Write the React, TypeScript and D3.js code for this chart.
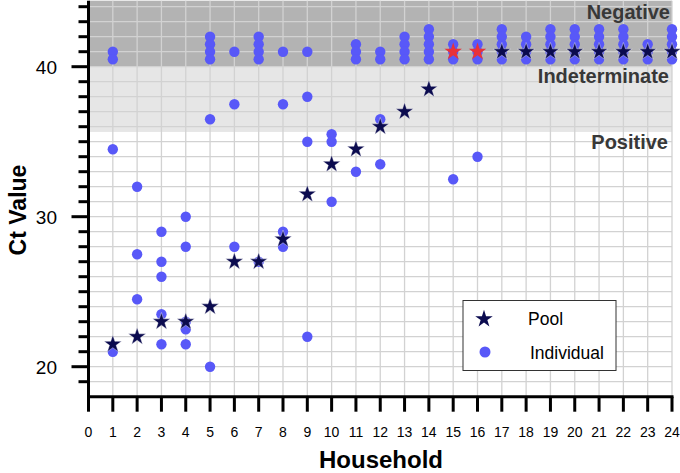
import React from "react";
import * as d3 from "d3";

const households = Array.from({ length: 25 }, (_, i) => i); // tick labels 0..24

// Pool results (household, Ct)
const poolHouse = [1, 2, 3, 4, 5, 6, 7, 8, 9, 10, 11, 12, 13, 14, 15, 16, 17, 18, 19, 20, 21, 22, 23, 24];
const poolCt = [21.5, 22, 23, 23, 24, 27, 27, 28.5, 31.5, 33.5, 34.5, 36, 37, 38.5, 41, 41, 41, 41, 41, 41, 41, 41, 41, 41];
const poolFlag = [0, 0, 0, 0, 0, 0, 0, 0, 0, 0, 0, 0, 0, 0, 1, 1, 0, 0, 0, 0, 0, 0, 0, 0];

// Individual results per household
const indiv: number[][] = [
  [41, 40.5, 34.5, 21],
  [32, 27.5, 24.5],
  [29, 27, 26, 23.5, 21.5],
  [30, 28, 23, 22.5, 21.5],
  [42, 41.5, 41, 40.5, 36.5, 20],
  [41, 37.5, 28],
  [42, 41.5, 41, 40.5, 27],
  [41, 37.5, 29, 28],
  [41, 38, 35, 22],
  [35.5, 35, 31],
  [41.5, 41, 40.5, 33],
  [41, 40.5, 36.5, 33.5],
  [42, 41.5, 41, 40.5],
  [42.5, 42, 41.5, 41, 40.5],
  [41.5, 41, 40.5, 32.5],
  [41.5, 41, 40.5, 34],
  [42.5, 42, 41.5, 41, 40.5],
  [42, 41.5, 41, 40.5],
  [42.5, 42, 41.5, 41, 40.5],
  [42.5, 42, 41.5, 41, 40.5],
  [42.5, 42, 41.5, 41, 40.5],
  [42.5, 42, 41.5, 41, 40.5],
  [41.5, 41, 40.5],
  [42.5, 42, 41.5, 41, 40.5],
];

const yMajor = [20, 30, 40];
const bandLabels = ["Negative", "Indeterminate", "Positive"];
const negThreshold = 40;
const posThreshold = 35.65;

export default function App() {
  const W = 680, H = 473;
  const x = d3.scaleLinear().domain([0, 24]).range([88.5, 672]);
  const y = d3.scaleLinear().domain([18, 44.4]).range([396.7, 0.7]);
  const yMinor = d3.range(19, 45, 1);
  const star = d3.symbol().type(d3.symbolStar).size(95)();
  const dotColor = "#5858f8";
  const starColor = "#0b0b4f";
  const redStar = "#e8323a";
  const font = "'Liberation Sans', Arial, sans-serif";
  const x0 = x(0), x1 = x(24), yTop = y(44.4), yBot = y(18);

  const indivPts: { h: number; v: number }[] = [];
  indiv.forEach((arr, i) => arr.forEach((v) => indivPts.push({ h: i + 1, v })));

  return (
    <svg width={W} height={H} style={{ position: "absolute", left: 0, top: 0, background: "#fff" }}>
      {/* bands */}
      <rect x={x0} y={yTop} width={x1 - x0} height={y(negThreshold) - yTop} fill="#b3b3b3" />
      <rect x={x0} y={y(negThreshold)} width={x1 - x0} height={y(posThreshold) - y(negThreshold)} fill="#e6e6e6" />
      {/* grid */}
      {yMinor.map((v) => (
        <line key={"gy" + v} x1={x0} x2={x1} y1={y(v)} y2={y(v)} stroke="#d2d2d2" strokeWidth={1.3} />
      ))}
      {households.slice(1).map((h) => (
        <line key={"gx" + h} x1={x(h)} x2={x(h)} y1={yTop} y2={yBot} stroke="#d2d2d2" strokeWidth={1.3} />
      ))}
      {/* band labels */}
      <g fontFamily={font} fontWeight="bold" fontSize={20} fill="#383838" textAnchor="end">
        <text x={670} y={19}>{bandLabels[0]}</text>
        <text x={669} y={83}>{bandLabels[1]}</text>
        <text x={668} y={149}>{bandLabels[2]}</text>
      </g>
      {/* individuals */}
      {indivPts.map((p, i) => (
        <circle key={"d" + i} cx={x(p.h)} cy={y(p.v)} r={5.2} fill={dotColor} />
      ))}
      {/* pools */}
      {poolHouse.map((h, i) => (
        <path
          key={"s" + i}
          d={star}
          transform={`translate(${x(h)},${y(poolCt[i])})`}
          fill={poolFlag[i] ? redStar : starColor}
          stroke={poolFlag[i] ? "none" : "#ffffff"}
          strokeWidth={0.4}
        />
      ))}
      {/* axes */}
      <line x1={x0} x2={x0} y1={yTop} y2={yBot + 1.5} stroke="#000" strokeWidth={3} />
      <line x1={x0 - 1.5} x2={x1 + 1.5} y1={yBot} y2={yBot} stroke="#000" strokeWidth={3} />
      {yMinor.filter((v) => v <= 44).map((v) => (
        <line key={"yt" + v} x1={yMajor.includes(v) ? x0 - 17 : x0 - 10} x2={x0} y1={y(v)} y2={y(v)} stroke="#000" strokeWidth={3} />
      ))}
      {households.map((h) => (
        <line key={"xt" + h} x1={x(h)} x2={x(h)} y1={yBot} y2={yBot + 15} stroke="#000" strokeWidth={3} />
      ))}
      <g fontFamily={font} fontSize={19} fill="#000" textAnchor="end">
        {yMajor.map((v) => (
          <text key={"yl" + v} x={57} y={y(v) + 7}>{v}</text>
        ))}
      </g>
      <g fontFamily={font} fontSize={14} fill="#000" textAnchor="middle">
        {households.map((h) => (
          <text key={"xl" + h} x={x(h)} y={437}>{h}</text>
        ))}
      </g>
      <text x={381} y={468} fontFamily={font} fontWeight="bold" fontSize={24} textAnchor="middle">Household</text>
      <text transform={`translate(26,210) rotate(-90)`} fontFamily={font} fontWeight="bold" fontSize={23} textAnchor="middle">Ct Value</text>
      {/* legend */}
      <rect x={463} y={300.5} width={153} height={70} fill="#fff" stroke="#333" strokeWidth={1} />
      <path d={star} transform="translate(484,319)" fill={starColor} />
      <text x={528} y={325} fontFamily={font} fontSize={17.5}>Pool</text>
      <circle cx={485} cy={352} r={5.5} fill={dotColor} />
      <text x={530} y={359} fontFamily={font} fontSize={17.5}>Individual</text>
    </svg>
  );
}
